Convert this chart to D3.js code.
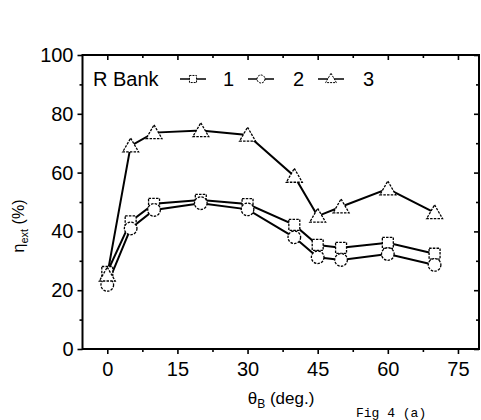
<!DOCTYPE html>
<html>
<head>
<meta charset="utf-8">
<script src="https://cdn.jsdelivr.net/npm/d3@7"></script>
<style>
  html, body { margin: 0; padding: 0; background: #fff; }
  svg { display: block; font-family: "Liberation Sans", Arial, sans-serif; }
</style>
</head>
<body>
<svg id="chart" width="481" height="420"></svg>
<script>
// Incidence angle θB (deg.)
const angles = [0, 5, 10, 20, 30, 40, 45, 50, 60, 70];
// External efficiency η_ext (%) per R bank
const bank1 = [26.2, 43.4, 49.4, 50.7, 49.3, 42.2, 35.4, 34.4, 36.1, 32.4];
const bank2 = [21.8, 41.0, 47.3, 49.6, 47.5, 38.0, 31.2, 30.3, 32.3, 28.6];
const bank3 = [25.2, 69.1, 73.6, 74.3, 72.8, 58.8, 45.2, 48.4, 54.5, 46.4];
const seriesNames = ["1", "2", "3"];
const xTicks = [0, 15, 30, 45, 60, 75];
const yTicks = [0, 20, 40, 60, 80, 100];

const svg = d3.select("#chart");
const L = 82.5, R = 479, T = 55, B = 349;

const x = d3.scaleLinear().domain([-5.3, 79.5]).range([L, R]);
const y = d3.scaleLinear().domain([0, 100]).range([B, T]);

const xMinor = d3.range(-7.5, 80, 7.5).filter(v => x(v) > L && x(v) < R);
const yMinor = d3.range(10, 100, 10);

// Bottom axis: outward ticks, labels
svg.append("g").attr("transform", `translate(0,${B})`)
  .call(d3.axisBottom(x).tickValues(xTicks).tickSize(5).tickPadding(8).tickFormat(d3.format("d")));
svg.append("g").attr("transform", `translate(0,${B})`)
  .call(d3.axisBottom(x).tickValues(xMinor.filter(v => xTicks.indexOf(v) < 0)).tickSize(3).tickFormat(""));

// Left axis
svg.append("g").attr("transform", `translate(${L},0)`)
  .call(d3.axisLeft(y).tickValues(yTicks).tickSize(5).tickPadding(4).tickFormat(d3.format("d")));
svg.append("g").attr("transform", `translate(${L},0)`)
  .call(d3.axisLeft(y).tickValues(yMinor.filter(v => yTicks.indexOf(v) < 0)).tickSize(3).tickFormat(""));

// Top axis: inward ticks
svg.append("g").attr("transform", `translate(0,${T})`)
  .call(d3.axisTop(x).tickValues(xTicks).tickSize(-5).tickFormat(""));
svg.append("g").attr("transform", `translate(0,${T})`)
  .call(d3.axisTop(x).tickValues(xMinor.filter(v => xTicks.indexOf(v) < 0)).tickSize(-3).tickFormat(""));

// Right axis: inward ticks
svg.append("g").attr("transform", `translate(${R},0)`)
  .call(d3.axisRight(y).tickValues(yTicks).tickSize(-5).tickFormat(""));
svg.append("g").attr("transform", `translate(${R},0)`)
  .call(d3.axisRight(y).tickValues(yMinor.filter(v => yTicks.indexOf(v) < 0)).tickSize(-3).tickFormat(""));

svg.selectAll(".domain").remove();
svg.selectAll(".tick line").attr("stroke", "#000").attr("stroke-width", 1.6);
svg.selectAll(".tick text").attr("fill", "#000").style("font-size", "20px")
  .style("font-family", "'Liberation Sans', Arial, sans-serif");

// Frame
svg.append("rect").attr("x", L).attr("y", T).attr("width", R - L).attr("height", B - T)
  .attr("fill", "none").attr("stroke", "#000").attr("stroke-width", 2);

// Axis titles
const xt = svg.append("text").attr("x", 281).attr("y", 404).attr("text-anchor", "middle")
  .style("font-size", "17px").attr("fill", "#000");
xt.append("tspan").text("θ");
xt.append("tspan").attr("dy", 4).style("font-size", "12px").text("B");
xt.append("tspan").attr("dy", -4).text(" (deg.)");

const yt = svg.append("text").attr("transform", "translate(24,226) rotate(-90)")
  .attr("text-anchor", "middle").style("font-size", "16px").attr("fill", "#000");
yt.append("tspan").text("η");
yt.append("tspan").attr("dy", 4).style("font-size", "11px").text("ext");
yt.append("tspan").attr("dy", -4).text(" (%)");

// Marker shapes
const symbols = [d3.symbolSquare, d3.symbolCircle, d3.symbolTriangle];
const sizes = [120, 125, 110];
const data = [bank1, bank2, bank3];

const line = d3.line().x((d, i) => x(angles[i])).y(d => y(d));

data.forEach((vals) => {
  svg.append("path").datum(vals).attr("d", line)
    .attr("fill", "none").attr("stroke", "#000").attr("stroke-width", 2);
});

data.forEach((vals, s) => {
  const sym = d3.symbol().type(symbols[s]).size(sizes[s]);
  svg.append("g").selectAll("path").data(vals).join("path")
    .attr("transform", (d, i) => `translate(${x(angles[i])},${y(d) + (s === 2 ? 1.5 : 0)})`)
    .attr("d", sym)
    .attr("fill", "#fff").attr("stroke", "#000").attr("stroke-width", 1.3)
    .attr("stroke-dasharray", "2.5,1.2");
});

// Legend
const legY = 79;
svg.append("text").attr("x", 93).attr("y", legY + 7).style("font-size", "20px").attr("fill", "#000").text("R Bank");
const legX = [180, 248, 318];
const legLabelX = [223, 293, 363];
seriesNames.forEach((name, s) => {
  const g = svg.append("g");
  g.append("line").attr("x1", legX[s]).attr("x2", legX[s] + 26).attr("y1", legY).attr("y2", legY)
    .attr("stroke", "#000").attr("stroke-width", 1.5);
  g.append("path").attr("transform", `translate(${legX[s] + 13},${legY + (s === 2 ? 0.5 : 0)})`)
    .attr("d", d3.symbol().type(symbols[s]).size(50))
    .attr("fill", "#fff").attr("stroke", "#000").attr("stroke-width", 1)
    .attr("stroke-dasharray", "2,1");
  g.append("text").attr("x", legLabelX[s]).attr("y", legY + 7).style("font-size", "20px")
    .attr("fill", "#000").text(name);
});

// Figure caption at the lower right
svg.append("text").attr("x", 356).attr("y", 417).style("font-size", "13px")
  .style("font-family", "'Liberation Mono', monospace").attr("fill", "#000").text("Fig 4 (a)");
</script>
</body>
</html>
